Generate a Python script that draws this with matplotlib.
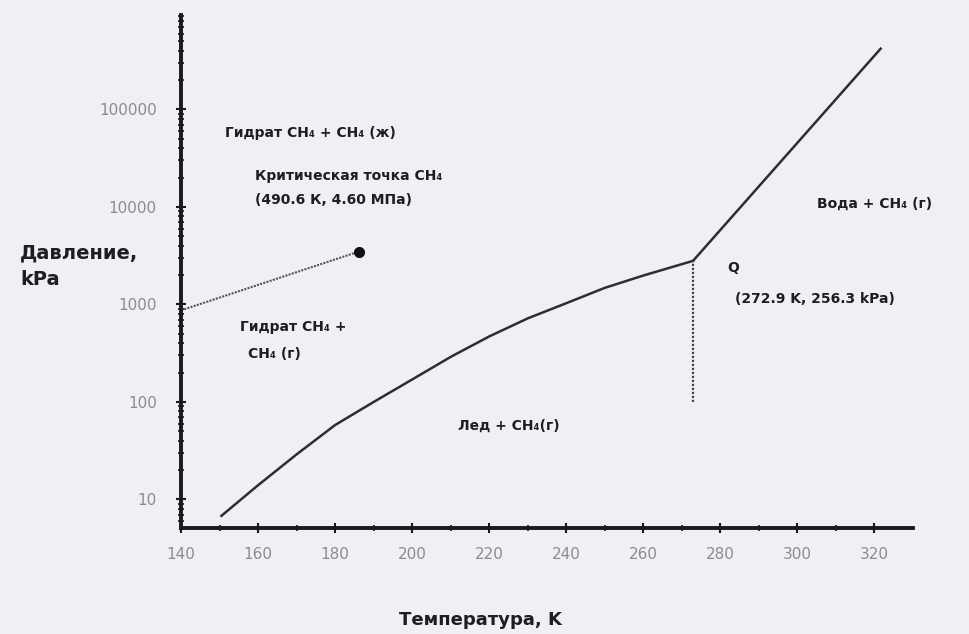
import numpy as np
import matplotlib
matplotlib.use("Agg")
import matplotlib.pyplot as plt
from matplotlib.ticker import FixedLocator, NullFormatter, LogLocator

# equilibrium curve: hydrate + gas / ice + gas (log pressure)
t_low = [150.5, 160, 170, 180, 190, 200, 210, 220, 230, 240, 250, 260, 272.9]
p_low = [6.8, 14, 29, 58, 100, 170, 290, 470, 720, 1030, 1480, 1980, 2800]
# hydrate + liquid water branch above Q
t_high = [272.9, 321.6]
p_high = [2800, 420000]
# CH4 vapour pressure line up to the critical point
t_crit_line = [140, 186.2]
p_crit_line = [870, 3490]
crit_point = (186.2, 3490)
# Q point vertical guide
q_t = 272.9
q_p = [100, 2800]

x_ticks = [140, 160, 180, 200, 220, 240, 260, 280, 300, 320]
y_ticks = [10, 100, 1000, 10000, 100000]

fig = plt.figure(figsize=(9.69, 6.34), dpi=100)
bg = "#eef0f3"
fig.patch.set_facecolor(bg)
ax = fig.add_axes([181 / 969, 1 - 528 / 634, (913 - 181) / 969, (528 - 15) / 634])
ax.set_facecolor(bg)

line_col = "#2e2e2e"
ax.plot(t_low, p_low, color=line_col, lw=1.8)
ax.plot(t_high, p_high, color=line_col, lw=1.8)
ax.plot(t_crit_line, p_crit_line, color="#555555", lw=1.5, ls=(0, (1, 0.6)))
ax.plot([q_t, q_t], q_p, color="#444444", lw=1.6, ls=(0, (1, 0.8)))
ax.plot(*crit_point, "o", color="#111111", ms=7)

ax.set_yscale("log")
ax.set_xlim(140, 330)
ax.set_ylim(5.1, 9.3e5)

for s in ["top", "right"]:
    ax.spines[s].set_visible(False)
for s in ["left", "bottom"]:
    ax.spines[s].set_linewidth(2.8)
    ax.spines[s].set_color("#1a1a1a")

ax.xaxis.set_major_locator(FixedLocator(x_ticks))
ax.xaxis.set_minor_locator(FixedLocator(np.arange(150, 330, 20)))
ax.yaxis.set_major_locator(FixedLocator(y_ticks))
ax.yaxis.set_minor_locator(LogLocator(base=10, subs=np.arange(2, 10), numticks=20))
ax.yaxis.set_minor_formatter(NullFormatter())
ax.set_xticklabels([str(v) for v in x_ticks])
ax.set_yticklabels([str(v) for v in y_ticks])

ax.tick_params(axis="both", which="major", labelsize=11, labelcolor="#8c8c8c",
               color="#1a1a1a", width=1.5, length=7, direction="inout")
ax.tick_params(axis="both", which="minor", color="#1a1a1a", width=1.2,
               length=5, direction="inout")
ax.tick_params(axis="x", which="major", pad=10)
ax.tick_params(axis="y", which="major", pad=14)

txt = dict(fontsize=10, fontweight="bold", color="#1e1e1e", va="center", ha="left")
ax.text(151.4, 58000, "Гидрат CH₄ + CH₄ (ж)", **txt)
ax.text(159.2, 21000, "Критическая точка CH₄", **txt)
ax.text(159.2, 11900, "(490.6 К, 4.60 МПа)", **txt)
ax.text(155.3, 594, "Гидрат CH₄ +", **txt)
ax.text(157.4, 307, "CH₄ (г)", **txt)
ax.text(212, 57, "Лед + CH₄(г)", **txt)
ax.text(281.8, 2390, "Q", **txt)
ax.text(283.9, 1150, "(272.9 K, 256.3 kPa)", **txt)
ax.text(305.2, 10900, "Вода + CH₄ (г)", **txt)

fig.text(20 / 969, 1 - 266 / 634, "Давление,\nkPa", fontsize=14, fontweight="bold",
         color="#1e1e1e", va="center", ha="left", linespacing=1.5)
fig.text(480 / 969, 1 - 620 / 634, "Температура, K", fontsize=13, fontweight="bold",
         color="#1e1e1e", va="center", ha="center")

fig.savefig("out.png", dpi=100, facecolor=bg)
